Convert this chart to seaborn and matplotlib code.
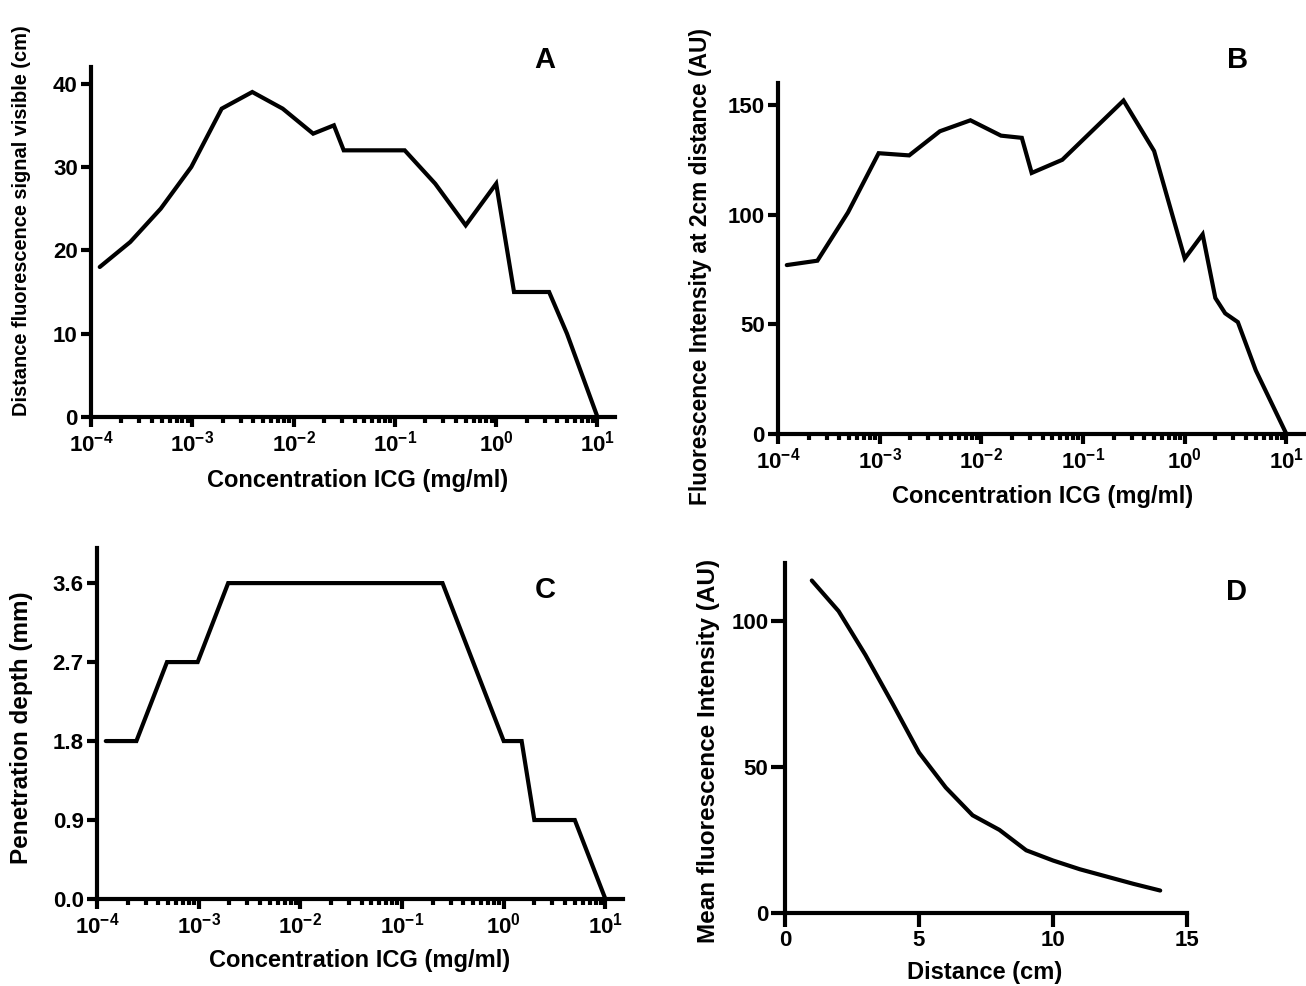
import numpy as np
import pandas as pd
import matplotlib
matplotlib.use("Agg")
import matplotlib.pyplot as plt
import matplotlib.ticker as mticker
import seaborn as sns

# ---------------- data ----------------
conc_a = [1.22e-4, 2.44e-4, 4.88e-4, 9.77e-4, 1.95e-3, 3.91e-3, 7.81e-3, 0.0156, 0.025,
          0.03125, 0.125, 0.25, 0.5, 1.0, 1.5, 3.33, 5.0, 10.0]
dist_visible = [18, 21, 25, 30, 37, 39, 37, 34, 35, 32, 32, 28, 23, 28, 15, 15, 10, 0]

conc_b = [1.22e-4, 2.44e-4, 4.88e-4, 9.77e-4, 1.95e-3, 3.91e-3, 7.81e-3, 0.0156, 0.025,
          0.03125, 0.0625, 0.25, 0.5, 1.0, 1.5, 2.0, 2.5, 3.33, 5.0, 10.0]
intensity_2cm = [77, 79, 101, 128, 127, 138, 143, 136, 135, 119, 125, 152, 129, 80, 91,
                 62, 55, 51, 29, 0]

conc_c = [1.22e-4, 2.44e-4, 4.88e-4, 9.77e-4, 1.95e-3, 0.25, 1.0, 1.5, 2.0, 5.0, 10.0]
pen_depth = [1.8, 1.8, 2.7, 2.7, 3.6, 3.6, 1.8, 1.8, 0.9, 0.9, 0.0]

distance_d = [1, 2, 3, 4, 5, 6, 7, 8, 9, 10, 11, 12, 13, 14]
mean_intensity = [114, 103.5, 88.5, 72, 55, 43, 33.5, 28.5, 21.5, 18, 15, 12.5, 10, 7.7]

ticks_a = [0, 10, 20, 30, 40]
ticks_b = [0, 50, 100, 150]
ticks_c = [0.0, 0.9, 1.8, 2.7, 3.6]
ticks_dy = [0, 50, 100]
ticks_dx = [0, 5, 10, 15]

xlabel_conc = "Concentration ICG (mg/ml)"
ylabel_a = "Distance fluorescence signal visible (cm)"
ylabel_b = "Fluorescence Intensity at 2cm distance (AU)"
ylabel_c = "Penetration depth (mm)"
ylabel_d = "Mean fluorescence Intensity (AU)"
xlabel_d = "Distance (cm)"

# ---------------- style ----------------
sns.set_theme(style="ticks")
plt.rcParams["font.family"] = ["Liberation Sans", "DejaVu Sans"]
plt.rcParams["font.weight"] = "bold"
plt.rcParams["mathtext.fontset"] = "custom"
plt.rcParams["mathtext.bf"] = "Liberation Sans:bold"
plt.rcParams["mathtext.rm"] = "Liberation Sans:bold"
plt.rcParams["mathtext.default"] = "bf"
for k in ("text.color", "axes.labelcolor", "xtick.color", "ytick.color", "axes.edgecolor"):
    plt.rcParams[k] = "black"

W, H = 1306, 986
fig = plt.figure(figsize=(W / 100, H / 100), dpi=100)
fig.patch.set_facecolor("white")

LW = 3.0
TICK_FS = 16
XLABEL_FS = 17


def make_ax(x0, x1, ybot, ytop):
    return fig.add_axes([x0 / W, (H - ybot) / H, (x1 - x0) / W, (ybot - ytop) / H])


def style_ax(ax, major_len=7.5):
    sns.despine(ax=ax)
    for s in ("left", "bottom"):
        ax.spines[s].set_linewidth(LW)
        ax.spines[s].set_color("black")
    ax.tick_params(axis="both", which="major", length=major_len, width=LW, color="black",
                   labelsize=TICK_FS, pad=2, direction="out", labelcolor="black")
    ax.tick_params(axis="both", which="minor", length=4.5, width=LW, color="black",
                   direction="out")
    ax.set_facecolor("white")


def log_axis(ax):
    ax.set_xscale("log")
    ax.set_xlim(1e-4, 10 ** 1.173)
    ax.xaxis.set_major_locator(mticker.FixedLocator([1e-4, 1e-3, 1e-2, 1e-1, 1e0, 1e1]))
    ax.xaxis.set_minor_locator(mticker.LogLocator(base=10, subs=np.arange(2, 10), numticks=20))
    ax.xaxis.set_minor_formatter(mticker.NullFormatter())
    ax.xaxis.set_major_formatter(
        mticker.FuncFormatter(lambda v, p: r"$\mathbf{10^{%d}}$" % int(round(np.log10(v)))))


def place_labels(ax, xl, yl, xpos, ypos, yfs, xfs=XLABEL_FS):
    ax.set_xlabel(xl, fontsize=xfs, fontweight="bold", color="black")
    ax.set_ylabel(yl, fontsize=yfs, fontweight="bold", color="black")
    ax.xaxis.set_label_coords(xpos[0] / W, 1 - xpos[1] / H, transform=fig.transFigure)
    ax.yaxis.set_label_coords(ypos[0] / W, 1 - ypos[1] / H, transform=fig.transFigure)
    ax.xaxis.label.set_verticalalignment("center")
    ax.yaxis.label.set_verticalalignment("center")
    ax.yaxis.label.set_horizontalalignment("center")


def letter(x, y, t):
    fig.text(x / W, 1 - y / H, t, fontsize=21, fontweight="bold", ha="center", va="center",
             color="black")


# Panel A
axA = make_ax(91, 615, 417, 67)
dfA = pd.DataFrame({"conc": conc_a, "val": dist_visible})
sns.lineplot(data=dfA, x="conc", y="val", ax=axA, color="black", lw=LW, sort=False,
             estimator=None)
log_axis(axA)
axA.set_ylim(0, 42)
axA.set_yticks(ticks_a)
style_ax(axA)
place_labels(axA, xlabel_conc, ylabel_a, (358, 481), (22, 221), yfs=14.4)
letter(545, 60, "A")

# Panel B
axB = make_ax(778, 1304, 434, 83)
dfB = pd.DataFrame({"conc": conc_b, "val": intensity_2cm})
sns.lineplot(data=dfB, x="conc", y="val", ax=axB, color="black", lw=LW, sort=False,
             estimator=None)
log_axis(axB)
axB.set_ylim(0, 160)
axB.set_yticks(ticks_b)
style_ax(axB)
place_labels(axB, xlabel_conc, ylabel_b, (1043, 497), (700, 267), yfs=16.4)
letter(1238, 60, "B")

# Panel C
axC = make_ax(97, 623, 899, 548)
dfC = pd.DataFrame({"conc": conc_c, "val": pen_depth})
sns.lineplot(data=dfC, x="conc", y="val", ax=axC, color="black", lw=LW, sort=False,
             estimator=None)
log_axis(axC)
axC.set_ylim(0, 4.0)
axC.set_yticks(ticks_c)
axC.yaxis.set_major_formatter(mticker.FormatStrFormatter("%.1f"))
style_ax(axC)
place_labels(axC, xlabel_conc, ylabel_c, (360, 961), (22, 728), yfs=17.5)
letter(545, 590, "C")

# Panel D
axD = make_ax(785, 1187, 913, 563)
dfD = pd.DataFrame({"dist": distance_d, "val": mean_intensity})
sns.lineplot(data=dfD, x="dist", y="val", ax=axD, color="black", lw=LW, sort=False,
             estimator=None)
axD.set_xlim(0, 15)
axD.set_ylim(0, 120)
axD.set_xticks(ticks_dx)
axD.set_yticks(ticks_dy)
style_ax(axD, major_len=10)
place_labels(axD, xlabel_d, ylabel_d, (985, 972), (709, 751), yfs=17.5)
letter(1237, 592, "D")

for ax in (axA, axB, axC, axD):
    for line in ax.get_lines():
        line.set_solid_joinstyle("miter")
    for lab in ax.get_xticklabels() + ax.get_yticklabels():
        lab.set_fontweight("bold")
        lab.set_color("black")
    if ax.get_legend() is not None:
        ax.get_legend().remove()

fig.savefig("out.png", dpi=100, facecolor="white")
